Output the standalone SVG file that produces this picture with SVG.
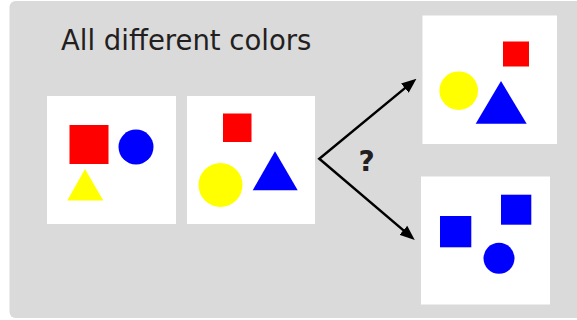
<svg xmlns="http://www.w3.org/2000/svg" width="577" height="320" viewBox="0 0 577 320">
<defs>
<style>
.panel{fill:#ffffff}
.red{fill:#ff0000}
.blue{fill:#0000ff}
.yellow{fill:#ffff00}
.conn{fill:none;stroke:#000000;stroke-width:2.5;stroke-linejoin:miter}
.title{font-family:"DejaVu Sans",Verdana,sans-serif;font-size:27.5px;fill:#231f20}
.q{font-family:"DejaVu Sans",Verdana,sans-serif;font-size:28px;font-weight:bold;fill:#231f20}
</style>
<marker id="ah" markerUnits="userSpaceOnUse" markerWidth="15" markerHeight="13" refX="6" refY="6.5" orient="auto-start-reverse" viewBox="0 0 15 13">
<path d="M0,0.5 L15,6.5 L0,12.5 z" fill="#000000"/>
</marker>
</defs>
<rect x="9.5" y="1" width="620" height="317" rx="6" fill="#dadada"/>
<text class="title" x="61" y="50">All different colors</text>
<g id="panel1">
<rect class="panel" x="47" y="96" width="129" height="128"/>
<rect class="red" x="69.5" y="125" width="39" height="39"/>
<circle class="blue" cx="136" cy="147" r="17.5"/>
<polygon class="yellow" points="85,169 103.3,200.5 67.3,200.5"/>
</g>
<g id="panel2">
<rect class="panel" x="187" y="96" width="128" height="128"/>
<rect class="red" x="223" y="113.5" width="28.5" height="28.5"/>
<circle class="yellow" cx="220.5" cy="185" r="22"/>
<polygon class="blue" points="275,151.3 297.7,190.3 252.7,190.3"/>
</g>
<g id="panel3">
<rect class="panel" x="422.5" y="15.5" width="134.5" height="128.5"/>
<rect class="red" x="503" y="41.5" width="26" height="25"/>
<circle class="yellow" cx="458.7" cy="90.7" r="19.3"/>
<polygon class="blue" points="501,81 526.7,123.7 475.7,123.7"/>
</g>
<g id="panel4">
<rect class="panel" x="421" y="176.5" width="129" height="128"/>
<rect class="blue" x="440" y="216" width="31.3" height="31.3"/>
<rect class="blue" x="501" y="194.7" width="30.3" height="30"/>
<circle class="blue" cx="499" cy="258.3" r="15.5"/>
</g>
<g id="connectors">
<path class="conn" d="M409.5,84.4 L319.3,158.7 L407.9,234.1" marker-start="url(#ah)" marker-end="url(#ah)"/>
<text class="q" x="366.5" y="170.5" text-anchor="middle">?</text>
</g>
</svg>
